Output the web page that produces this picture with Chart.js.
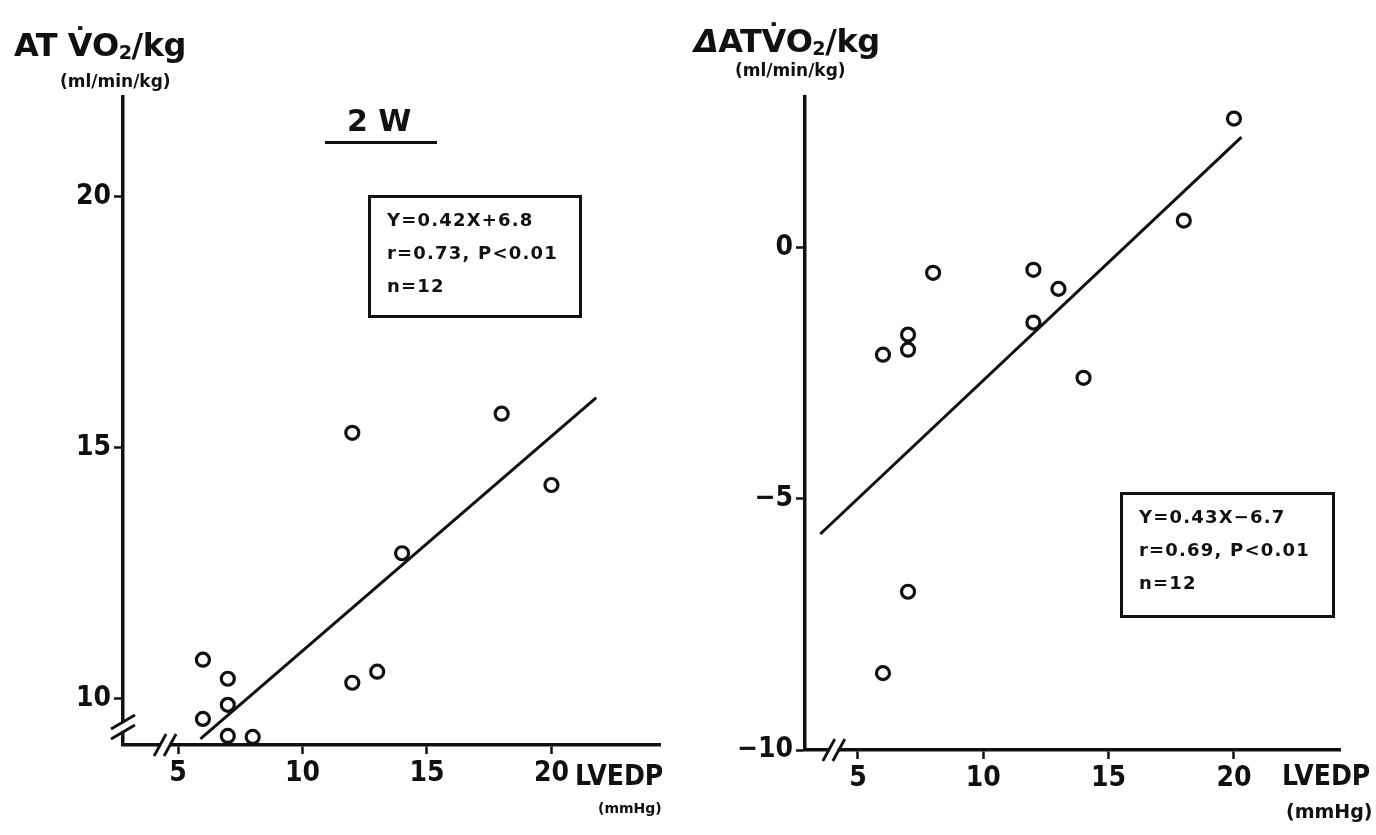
<!DOCTYPE html>
<html>
<head>
<meta charset="utf-8">
<script src="https://cdn.jsdelivr.net/npm/chart.js@4.4.1/dist/chart.umd.min.js"></script>
<style>
html, body { margin: 0; padding: 0; background: #fff; }
#page { position: relative; width: 1376px; height: 835px; overflow: hidden; color: #111;
        font-family: 'DejaVu Sans', sans-serif; }
.panel { position: absolute; top: 0; width: 688px; height: 835px; }
.lbl { position: absolute; font-weight: bold; white-space: nowrap; line-height: 1; }
.narrow { font-family: 'Liberation Sans Narrow', 'DejaVu Sans Condensed', 'Arial Narrow', sans-serif; }
.lbl sub { font-size: 60%; vertical-align: -0.15em; }
.box { position: absolute; border: 3px solid #111; box-sizing: border-box;
       font-weight: bold; font-size: 18px; letter-spacing: 1.2px; line-height: 33px;
       padding: 5px 0 0 16px; white-space: nowrap; }
</style>
</head>
<body>
<div id="page">
  <div class="panel" style="left:0"><canvas id="left"></canvas></div>
  <div class="panel" style="left:688px"><canvas id="right"></canvas></div>

  <div class="lbl" style="left:14px; top:29px; font-size:32px; letter-spacing:-0.5px">AT V&#775;O<sub>2</sub>/kg</div>
  <div class="lbl" style="left:60px; top:73px; font-size:17px">(ml/min/kg)</div>
  <div class="lbl" style="left:347px; top:106px; font-size:30px">2 W</div>
  <div style="position:absolute; left:325px; top:141px; width:112px; border-top:3px solid #111"></div>
  <div class="box" style="left:368px; top:195px; width:214px; height:123px">Y=0.42X+6.8<br>r=0.73, P&lt;0.01<br>n=12</div>
  <div class="lbl narrow" style="left:575px; top:762px; font-size:28px">LVEDP</div>
  <div class="lbl" style="left:598px; top:801px; font-size:14px">(mmHg)</div>

  <div class="lbl" style="left:694px; top:25px; font-size:32px; letter-spacing:-0.5px"><i>&Delta;</i>ATV&#775;O<sub>2</sub>/kg</div>
  <div class="lbl" style="left:735px; top:62px; font-size:17px">(ml/min/kg)</div>
  <div class="box" style="left:1120px; top:492px; width:215px; height:126px">Y=0.43X&minus;6.7<br>r=0.69, P&lt;0.01<br>n=12</div>
  <div class="lbl narrow" style="left:1282px; top:762px; font-size:28px">LVEDP</div>
  <div class="lbl" style="left:1286px; top:802px; font-size:19px">(mmHg)</div>
</div>
<script>
// tick values
var xTicks = [5, 10, 15, 20];
var leftYTicks = [10, 15, 20];
var rightYTicks = [-10, -5, 0];

// left panel: AT VO2/kg vs LVEDP
var leftX = [6, 7, 7, 6, 7, 8, 12, 12, 13, 14, 18, 20];
var leftY = [10.78, 10.4, 9.88, 9.6, 9.26, 9.24, 15.3, 10.32, 10.54, 12.9, 15.68, 14.26];
var leftLineX = [5.9, 21.8];
var leftLineY = [9.2, 16.0];

// right panel: delta AT VO2/kg vs LVEDP
var rightX = [6, 7, 7, 8, 12, 13, 12, 14, 7, 6, 18, 20];
var rightY = [-2.13, -1.73, -2.03, -0.5, -0.44, -0.82, -1.49, -2.59, -6.85, -8.47, 0.54, 2.57];
var rightLineX = [3.5, 20.3];
var rightLineY = [-5.7, 2.2];

var INK = '#111';
var NARROW = "'Liberation Sans Narrow', 'DejaVu Sans Condensed', 'Arial Narrow', sans-serif";

function pairs(xs, ys) {
    return xs.map(function(x, i) { return {x: x, y: ys[i]}; });
}

function drawBreak(ctx, cx, cy, horizontal) {
    ctx.fillStyle = '#fff';
    if (horizontal) ctx.fillRect(cx - 4, cy - 3, 8, 6);
    else ctx.fillRect(cx - 3, cy - 4, 6, 8);
    ctx.strokeStyle = INK;
    ctx.lineWidth = 2.8;
    for (var k = -1; k <= 1; k += 2) {
        ctx.beginPath();
        if (horizontal) {
            ctx.moveTo(cx + k * 5 - 6, cy + 11);
            ctx.lineTo(cx + k * 5 + 6, cy - 11);
        } else {
            ctx.moveTo(cx - 12, cy + k * 5 + 7);
            ctx.lineTo(cx + 12, cy + k * 5 - 7);
        }
        ctx.stroke();
    }
}

var breakPlugin = {
    id: 'breaks',
    afterDraw: function(chart, args, opts) {
        var ctx = chart.ctx;
        var a = chart.chartArea;
        ctx.save();
        (opts.x || []).forEach(function(v) {
            drawBreak(ctx, chart.scales.x.getPixelForValue(v), a.bottom, true);
        });
        (opts.y || []).forEach(function(v) {
            drawBreak(ctx, a.left, chart.scales.y.getPixelForValue(v), false);
        });
        ctx.restore();
    }
};

var makeChart = function(id, cfg) {
    var ctx = document.getElementById(id).getContext('2d');
    return new Chart(ctx, {
        type: 'scatter',
        data: {
            datasets: [
                {
                    type: 'line',
                    data: pairs(cfg.lineX, cfg.lineY),
                    borderColor: INK,
                    borderWidth: 3,
                    pointRadius: 0,
                    order: 2
                },
                {
                    data: pairs(cfg.xs, cfg.ys),
                    pointRadius: 6.5,
                    pointBorderWidth: 3.2,
                    pointBorderColor: INK,
                    pointBackgroundColor: '#fff',
                    order: 1
                }
            ]
        },
        options: {
            responsive: true,
            maintainAspectRatio: false,
            animation: false,
            layout: { padding: cfg.padding },
            plugins: {
                legend: { display: false },
                tooltip: { enabled: false },
                breaks: cfg.breaks
            },
            scales: {
                x: {
                    type: 'linear',
                    min: cfg.xMin, max: cfg.xMax,
                    afterBuildTicks: function(s) { s.ticks = xTicks.map(function(v) { return {value: v}; }); },
                    afterFit: function(s) { s.height = cfg.xHeight; },
                    border: { color: INK, width: 3.5 },
                    grid: { drawOnChartArea: false, tickLength: 9, tickColor: INK, tickWidth: 2.5 },
                    ticks: { color: INK, padding: 3, font: { family: NARROW, size: 28, weight: 'bold' } }
                },
                y: {
                    type: 'linear',
                    min: cfg.yMin, max: cfg.yMax,
                    afterBuildTicks: function(s) { s.ticks = cfg.yTicks.map(function(v) { return {value: v}; }); },
                    afterFit: function(s) { s.width = cfg.yWidth; },
                    border: { color: INK, width: 3.5 },
                    grid: { drawOnChartArea: false, tickLength: 9, tickColor: INK, tickWidth: 2.5 },
                    ticks: {
                        color: INK, padding: 3,
                        font: { family: NARROW, size: 28, weight: 'bold' },
                        callback: function(v) { return v < 0 ? '\u2212' + Math.abs(v) : String(v); }
                    }
                }
            }
        },
        plugins: [breakPlugin]
    });
};

makeChart('left', {
    xs: leftX, ys: leftY, lineX: leftLineX, lineY: leftLineY,
    xMin: 2.79, xMax: 24.36, yMin: 9.08, yMax: 21.99, yTicks: leftYTicks,
    padding: { left: 0, top: 97, right: 28, bottom: 0 },
    yWidth: 123, xHeight: 90,
    breaks: { x: [4.48], y: [9.44] }
});

makeChart('right', {
    xs: rightX, ys: rightY, lineX: rightLineX, lineY: rightLineY,
    xMin: 2.89, xMax: 24.23, yMin: -10, yMax: 3, yTicks: rightYTicks,
    padding: { left: 0, top: 97, right: 36, bottom: 0 },
    yWidth: 117, xHeight: 85,
    breaks: { x: [4.04] }
});
</script>
</body>
</html>
